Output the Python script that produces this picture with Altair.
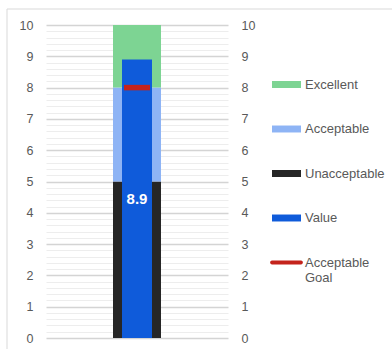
import altair as alt
import pandas as pd

# ---- data ----
band_names = ["Unacceptable", "Acceptable", "Excellent"]
band_low = [0, 5, 8]
band_high = [5, 8, 10]
value_name = "Value"
value_amount = 8.9
goal_name = "Acceptable Goal"
goal_amount = 8.0
legend_order = ["Excellent", "Acceptable", "Unacceptable", "Value", "Acceptable Goal"]
legend_colors = ["#7DD493", "#8EB4F5", "#262626", "#0F5BDA", "#C4231C"]
major_ticks = list(range(0, 11))
minor_ticks = [round(i * 0.2, 1) for i in range(51)]

cat = "KPI"
bands_df = pd.DataFrame({"cat": [cat] * 3, "name": band_names, "low": band_low, "high": band_high})
value_df = pd.DataFrame({"cat": [cat], "name": [value_name], "value": [value_amount]})
goal_df = pd.DataFrame({"cat": [cat], "name": [goal_name], "goal": [goal_amount]})
legend_df = pd.DataFrame({"cat": [cat] * 5, "name": legend_order})
frame_df = pd.DataFrame({"k": [0]})

FONT = "Liberation Sans"
GREY = "#595959"

xenc = alt.X("cat:N", axis=None)
yscale = alt.Scale(domain=[0, 10], nice=False, zero=True)
color_scale = alt.Scale(domain=legend_order, range=legend_colors)

rect_path = "M-1,-0.24H1V0.24H-1Z"
goal_path = "M-1.0,-0.13H1.0A0.13,0.13,0,0,1,1.0,0.13H-1.0A0.13,0.13,0,0,1,-1.0,-0.13Z"
shape_scale = alt.Scale(domain=legend_order,
                        range=[rect_path, rect_path, rect_path, rect_path, goal_path])

is_major = "abs(datum.value - round(datum.value)) < 0.001"
left_axis = alt.Axis(
    orient="left", values=minor_ticks, title=None, ticks=False, domain=False,
    labelExpr=is_major + " ? format(datum.value, 'd') : ''",
    labelColor=GREY, labelFont=FONT, labelFontSize=12.5, labelPadding=13,
    grid=True,
    gridColor={"condition": {"test": is_major, "value": "#D4D4D4"}, "value": "#EDEDED"},
    gridWidth={"condition": {"test": is_major, "value": 1.6}, "value": 1},
)
right_axis = alt.Axis(
    orient="right", values=major_ticks, title=None, ticks=False, domain=False, grid=False,
    format="d",
    labelColor=GREY, labelFont=FONT, labelFontSize=12.5, labelPadding=13,
)

legend_spec = alt.Legend(
    title=None, orient="none", legendX=226, legendY=45,
    symbolSize=841, symbolOpacity=1, symbolStrokeWidth=0,
    labelFont=FONT, labelFontSize=13, labelColor=GREY, labelOffset=4,
    labelLimit=200, rowPadding=22.5,
    labelExpr="datum.label == 'Acceptable Goal' ? [' Acceptable', 'Goal'] : datum.label",
)
color_enc = alt.Color("name:N", scale=color_scale, legend=legend_spec)

bands = alt.Chart(bands_df).mark_bar(width=48).encode(
    x=xenc,
    y=alt.Y("low:Q", scale=yscale, axis=left_axis),
    y2="high:Q",
    color=color_enc,
)

value_bar = alt.Chart(value_df).mark_bar(width=30).encode(
    x=xenc,
    y=alt.Y("value:Q", scale=yscale, axis=right_axis),
    color=color_enc,
)

goal_tick = alt.Chart(goal_df).mark_tick(thickness=5.5, size=26, opacity=1).encode(
    x=xenc,
    y=alt.Y("goal:Q", scale=yscale, axis=None),
    color=color_enc,
)

label = alt.Chart(value_df).transform_calculate(mid="datum.value / 2").mark_text(
    color="white", fontWeight="bold", fontSize=15, font=FONT
).encode(
    x=xenc,
    y=alt.Y("mid:Q", scale=yscale, axis=None),
    text=alt.Text("value:Q", format=".1f"),
)

legend_pts = alt.Chart(legend_df).mark_point(filled=True, opacity=0).encode(
    x=xenc,
    y=alt.value(0),
    color=color_enc,
    shape=alt.Shape("name:N", scale=shape_scale, legend=legend_spec),
)

frame_top = alt.Chart(frame_df).mark_rule(color="#D9D9D9", strokeWidth=1).encode(
    x=alt.value(-39), x2=alt.value(346), y=alt.value(-16)
)
frame_left = alt.Chart(frame_df).mark_rule(color="#D9D9D9", strokeWidth=1).encode(
    x=alt.value(-39), y=alt.value(-16), y2=alt.value(324)
)

chart = alt.layer(
    bands, value_bar, goal_tick, label, legend_pts, frame_top, frame_left
).resolve_axis(y="independent").resolve_scale(y="shared").properties(
    width=182, height=313,
    padding={"left": 46, "top": 25, "right": 164, "bottom": 11},
    autosize=alt.AutoSizeParams(type="none"),
).configure_view(stroke=None)

chart.save("out.html", embed_options={"renderer": "svg", "actions": False})
